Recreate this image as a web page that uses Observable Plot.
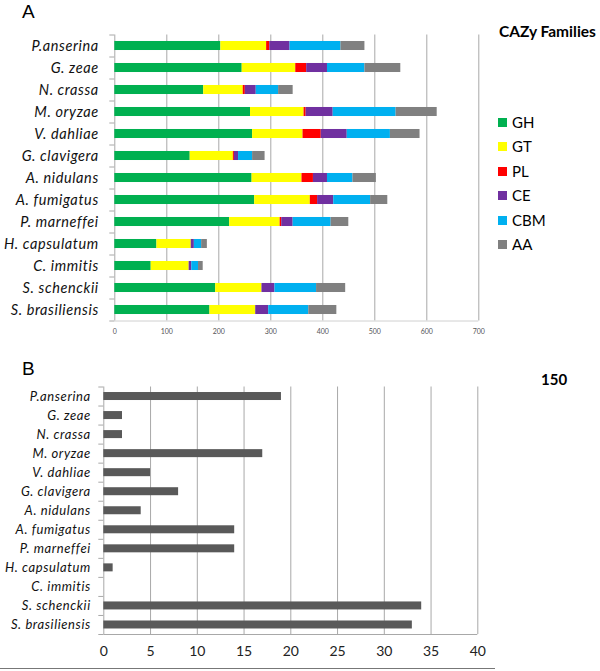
<!DOCTYPE html>
<html>
<head>
<meta charset="utf-8">
<script src="https://cdn.jsdelivr.net/npm/d3@7"></script>
<script src="https://cdn.jsdelivr.net/npm/@observablehq/plot@0.6"></script>
<style>
  html, body { margin: 0; padding: 0; background: #fff; }
  #wrap { position: relative; width: 600px; height: 671px; overflow: hidden; font-family: "Lato", sans-serif; }
  #wrap svg { position: absolute; left: 0; background: transparent; }
  .lbl { position: absolute; color: #000; white-space: nowrap; }
  .panel { font-family: "Liberation Sans", Arial, sans-serif; font-size: 19px; line-height: 22px; }
  .leg-title { font-family: "Lato", sans-serif; font-weight: bold; font-size: 15.5px; }
  .leg-item { position: absolute; display: flex; align-items: center; font-family: "Lato", sans-serif; font-size: 15px; height: 16px; }
  .leg-item span.sw { display: inline-block; width: 9px; height: 9px; margin-right: 5px; }
</style>
</head>
<body>
<div id="wrap"></div>
<script>
const species = ["P.anserina","G. zeae","N. crassa","M. oryzae","V. dahliae","G. clavigera","A. nidulans","A. fumigatus","P. marneffei","H. capsulatum","C. immitis","S. schenckii","S. brasiliensis"];
const families = ["GH","GT","PL","CE","CBM","AA"];
const familyColors = ["#00B050","#FFFF00","#FF0000","#7030A0","#00B0F0","#808080"];
const GH  = [204,245,171,261,265,145,264,269,221,81,70,194,183];
const GT  = [ 88,103, 76,103, 97, 83, 96,107, 97,66,73, 89, 88];
const PL  = [  6, 21,  4,  4, 35,  2, 22, 14,  3, 0, 0,  0,  0];
const CE  = [ 39, 40, 21, 52, 50,  8, 27, 31, 22, 6, 5, 25, 25];
const CBM = [ 98, 72, 43,121, 83, 27, 49, 71, 73,14,13, 80, 77];
const AA  = [ 46, 69, 28, 79, 57, 24, 45, 33, 34,11, 9, 56, 54];
const panelB = [19,2,2,17,5,8,4,14,14,1,0,34,33];
const ticksA = [0,100,200,300,400,500,600,700];
const ticksB = [0,5,10,15,20,25,30,35,40];
const legendTitle = "CAZy Families";
const labelB2 = "150";

const series = [GH, GT, PL, CE, CBM, AA];
const rowsA = [];
species.forEach((s, i) => {
  let cum = 0;
  families.forEach((f, k) => {
    const v = series[k][i];
    rowsA.push({i, species: s, family: f, x1: cum, x2: cum + v});
    cum += v;
  });
});
const rowsB = species.map((s, i) => ({i, species: s, value: panelB[i]}));
const labelRows = species.map((s, i) => ({i, species: s}));

const wrap = d3.select("#wrap");
const gridColor = "#a8a8a8";
const n = species.length;

const chartA = Plot.plot({
  width: 600, height: 345,
  marginLeft: 114.3, marginRight: 121.7, marginTop: 34.5, marginBottom: 24.5,
  style: {fontFamily: "Lato, sans-serif", background: "transparent"},
  x: {domain: [0, 700], label: null},
  y: {domain: [-0.5, n - 0.5], reverse: true, label: null},
  color: {domain: families, range: familyColors},
  marks: [
    Plot.gridX(ticksA.slice(1), {stroke: gridColor, strokeOpacity: 1}),
    Plot.ruleX([0], {stroke: gridColor}),
    Plot.ruleY([n - 0.5], {stroke: "#d0d0d0"}),
    Plot.rectX(rowsA, {x1: "x1", x2: "x2", y1: d => d.i - 0.205, y2: d => d.i + 0.205, fill: "family"}),
    Plot.axisX({ticks: ticksA, tickSize: 0, tickPadding: 8, fontSize: 7, color: "#555", label: null}),
    Plot.text(labelRows, {x: 0, y: "i", text: "species", textAnchor: "end", dx: -16, fontSize: 14.5, fontStyle: "italic", fill: "#111"}),
    Plot.axisY({ticks: d3.range(n + 1).map(i => i - 0.5), tickFormat: () => "", tickSize: 5, stroke: gridColor, label: null})
  ]
});
d3.select(chartA).style("top", "0px");
d3.select(chartA).selectAll('g[aria-label="text"] text').style("letter-spacing", "0.6px");
wrap.node().appendChild(chartA);

const chartB = Plot.plot({
  width: 600, height: 326,
  marginLeft: 103.3, marginRight: 122.7, marginTop: 41.5, marginBottom: 37,
  style: {fontFamily: "Lato, sans-serif", background: "transparent"},
  x: {domain: [0, 40], label: null},
  y: {domain: [-0.5, n - 0.5], reverse: true, label: null},
  marks: [
    Plot.gridX(ticksB.slice(1), {stroke: gridColor, strokeOpacity: 1}),
    Plot.ruleX([0], {stroke: gridColor}),
    Plot.ruleY([n - 0.5], {stroke: gridColor}),
    Plot.rectX(rowsB, {x1: 0, x2: "value", y1: d => d.i - 0.21, y2: d => d.i + 0.21, fill: "#595959"}),
    Plot.axisX({ticks: ticksB, tickSize: 0, tickPadding: 12, fontSize: 14, color: "#222", label: null}),
    Plot.text(labelRows, {x: 0, y: "i", text: "species", textAnchor: "end", dx: -13, fontSize: 13, fontStyle: "italic", fill: "#111"}),
    Plot.axisY({ticks: d3.range(n + 1).map(i => i - 0.5), tickFormat: () => "", tickSize: 5, stroke: gridColor, label: null})
  ]
});
d3.select(chartB).style("top", "345px");
d3.select(chartB).selectAll('g[aria-label="text"] text').style("letter-spacing", "0.6px");
wrap.node().appendChild(chartB);

// panel letters
wrap.append("div").attr("class", "lbl panel").style("left", "22px").style("top", "1px").text("A");
wrap.append("div").attr("class", "lbl panel").style("left", "22px").style("top", "358px").text("B");

// legend
wrap.append("div").attr("class", "lbl leg-title").style("left", "499px").style("top", "22px").text(legendTitle);
const legendY = [122, 146, 171, 195, 220, 244];
families.forEach((f, k) => {
  const item = wrap.append("div").attr("class", "leg-item")
    .style("left", "498px").style("top", (legendY[k] - 8) + "px");
  item.append("span").attr("class", "sw").style("background", familyColors[k]);
  item.append("span").text(f);
});

// label at top right of panel B
wrap.append("div").attr("class", "lbl leg-title").style("left", "541px").style("top", "370px").style("font-size", "15px").text(labelB2);

// separator line below panel B
wrap.append("div").style("position", "absolute").style("left", "0px").style("top", "668px")
  .style("width", "495px").style("height", "0px").style("border-top", "1px solid #777");
</script>
</body>
</html>
